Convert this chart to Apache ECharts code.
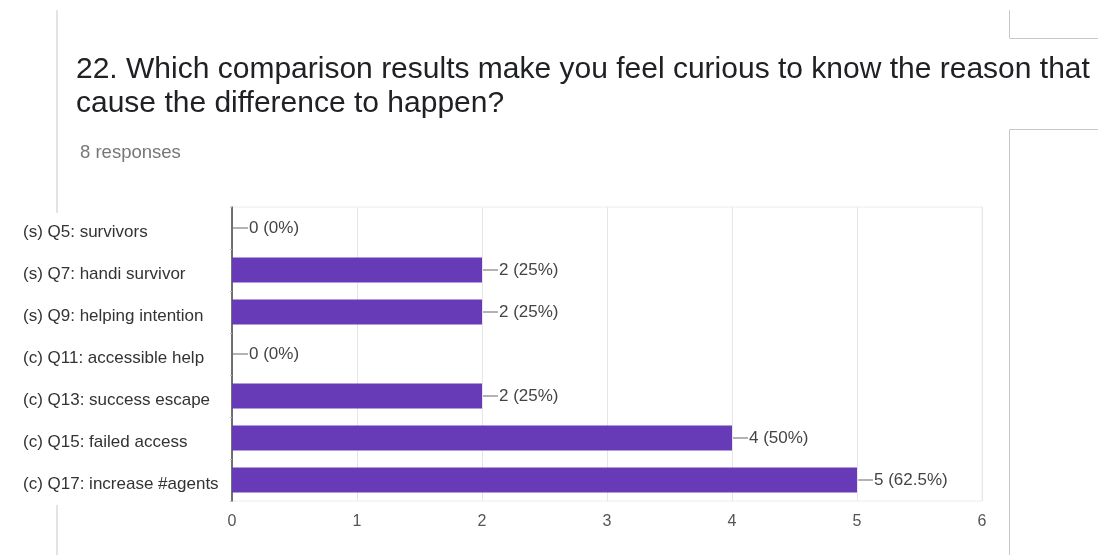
<!DOCTYPE html>
<html>
<head>
<meta charset="utf-8">
<script src="https://cdn.jsdelivr.net/npm/echarts@6/dist/echarts.min.js"></script>
<style>html,body{margin:0;padding:0;background:#fff;}#c{width:1098px;height:555px;}</style>
</head>
<body>
<div id="c"></div>
<script>
const categories = ['(s) Q5: survivors', '(s) Q7: handi survivor', '(s) Q9: helping intention', '(c) Q11: accessible help', '(c) Q13: success escape', '(c) Q15: failed access', '(c) Q17: increase #agents'];
const counts = [0, 2, 2, 0, 2, 4, 5];
const percentLabels = ['0%', '25%', '25%', '0%', '25%', '50%', '62.5%'];
const xTicks = [0, 1, 2, 3, 4, 5, 6];
const titleText = '22. Which comparison results make you feel curious to know the reason that\ncause the difference to happen?';
const subtitleText = '8 responses';

const chart = echarts.init(document.getElementById('c'), null, {renderer: 'canvas'});
const FONT = '"Liberation Sans", Arial, sans-serif';
const lineColor = '#c8c8c8';
function seg(x1, y1, x2, y2) {
  return {type: 'line', silent: true, shape: {x1, y1, x2, y2}, style: {stroke: lineColor, lineWidth: 1}};
}
chart.setOption({
  backgroundColor: '#fff',
  animation: false,
  title: [
    {text: titleText, left: 71, top: 48, padding: 5, textStyle: {fontFamily: FONT, fontSize: 30, fontWeight: 'normal', color: '#202124', lineHeight: 34}},
    {text: subtitleText, left: 75, top: 137, textStyle: {fontFamily: FONT, fontSize: 18.5, fontWeight: 'normal', color: '#777', lineHeight: 22}}
  ],
  grid: {left: 232, right: 116, top: 207, bottom: 54, show: true, borderColor: '#ececec', borderWidth: 1},
  xAxis: {
    type: 'value', min: xTicks[0], max: xTicks[xTicks.length - 1], interval: 1,
    axisLine: {show: false}, axisTick: {show: false},
    splitLine: {lineStyle: {color: '#e6e6e6'}},
    axisLabel: {fontFamily: FONT, fontSize: 16, color: '#555', margin: 13}
  },
  yAxis: {
    type: 'category', data: categories, inverse: true,
    axisLine: {lineStyle: {color: '#444', width: 1.5}},
    axisTick: {show: true, length: 2, lineStyle: {color: '#bbb'}},
    axisLabel: {
      fontFamily: FONT, fontSize: 17, color: '#333', margin: 209, align: 'left',
      formatter: v => '{c|' + v + '}',
      rich: {c: {fontFamily: FONT, fontSize: 17, color: '#333', padding: [9, 0, 0, 0]}}
    }
  },
  series: [{
    type: 'bar', data: counts, barWidth: 25,
    itemStyle: {color: '#673ab7'},
    label: {
      show: true, position: 'right', distance: 1,
      formatter: p => '{l|}{t|' + p.value + ' (' + percentLabels[p.dataIndex] + ')}',
      rich: {
        l: {width: 15, height: 1, backgroundColor: '#666', verticalAlign: 'middle'},
        t: {fontFamily: FONT, fontSize: 17, color: '#444', padding: [0, 0, 0, 1]}
      }
    }
  }],
  graphic: [
    seg(57, 10, 57, 213),
    seg(57, 505, 57, 555),
    seg(1009.5, 10, 1009.5, 38),
    seg(1009.5, 38.5, 1098, 38.5),
    seg(1009.5, 129.5, 1098, 129.5),
    seg(1009.5, 129.5, 1009.5, 555)
  ]
});
</script>
</body>
</html>
